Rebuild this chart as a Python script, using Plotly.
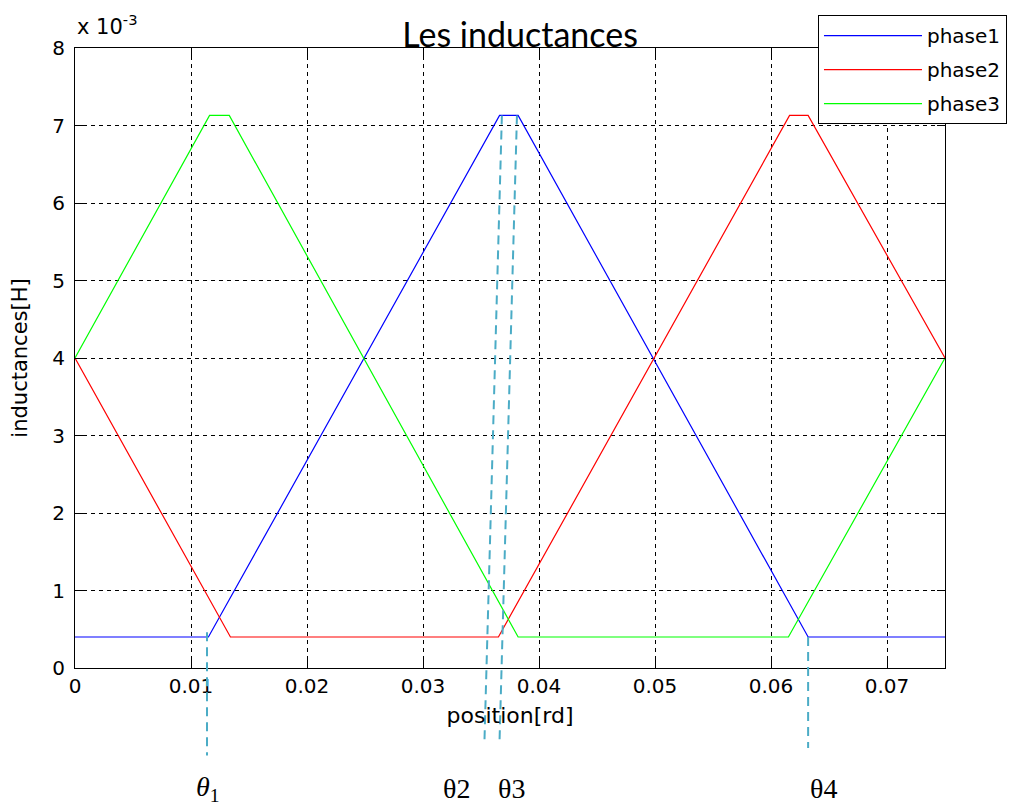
import plotly.graph_objects as go

# Values in units of 1e-3 H (axis shows "x 10^-3")
x_phase1 = [0, 0.0115, 0.0366, 0.0382, 0.0632, 0.075]
y_phase1 = [0.4, 0.4, 7.13, 7.13, 0.4, 0.4]
x_phase2 = [0, 0.0134, 0.0365, 0.0616, 0.0632, 0.075]
y_phase2 = [4.0, 0.4, 0.4, 7.13, 7.13, 4.0]
x_phase3 = [0, 0.0116, 0.0133, 0.0382, 0.0615, 0.075]
y_phase3 = [4.0, 7.13, 7.13, 0.4, 0.4, 4.0]

series_names = ["phase1", "phase2", "phase3"]
series_colors = ["#0000FF", "#FF0000", "#00FF00"]

x_ticks = [0, 0.01, 0.02, 0.03, 0.04, 0.05, 0.06, 0.07]
x_ticklabels = ["0", "0.01", "0.02", "0.03", "0.04", "0.05", "0.06", "0.07"]
y_ticks = [0, 1, 2, 3, 4, 5, 6, 7, 8]

# theta markers: (x at top, y top value, x at bottom)
theta_top_x = [0.01138, 0.0368, 0.0381, 0.0632]
theta_top_y = [0.46, 7.13, 7.13, 0.4]
theta_bot_x = [0.01138, 0.0353, 0.0366, 0.0632]
theta_bot_paper = [-0.141, -0.116, -0.116, -0.129]
theta_labels = ["<i>θ</i><sub>1</sub>", "θ2", "θ3", "θ4"]
theta_label_x = [0.0115, 0.0329, 0.0376, 0.0645]

fig = go.Figure()
for i, (xs, ys) in enumerate([(x_phase1, y_phase1), (x_phase2, y_phase2), (x_phase3, y_phase3)]):
    fig.add_trace(go.Scatter(x=xs, y=ys, mode="lines", name=series_names[i],
                             legendgroup=series_names[i],
                             line=dict(color=series_colors[i], width=1.2)))

Y0, Y1 = 0, 8
for tx, ty, bx, bp in zip(theta_top_x, theta_top_y, theta_bot_x, theta_bot_paper):
    fig.add_shape(type="line", xref="x", yref="paper",
                  x0=tx, y0=(ty - Y0) / (Y1 - Y0), x1=bx, y1=bp,
                  line=dict(color="#4BACC6", width=2, dash="9px,6px"), layer="above")

for lx, lt in zip(theta_label_x, theta_labels):
    fig.add_annotation(x=lx, y=-0.195, xref="x", yref="paper", text=lt, showarrow=False,
                       font=dict(family="Liberation Serif", size=28, color="black"),
                       xanchor="center", yanchor="middle")

fig.add_annotation(x=0, y=1.0, xref="paper", yref="paper", text="x 10<sup>-3</sup>",
                   showarrow=False, xanchor="left", yanchor="bottom", yshift=7,
                   font=dict(family="DejaVu Sans", size=21, color="black"))

TICKFONT = dict(family="DejaVu Sans", size=20, color="black")
axis_common = dict(showline=True, linecolor="black", linewidth=1, mirror="ticks",
                   ticks="inside", ticklen=8, tickcolor="black",
                   showgrid=True, gridcolor="black", gridwidth=1, griddash="4px,4px",
                   zeroline=False, automargin=False, tickfont=TICKFONT)

fig.update_layout(
    width=1008, height=801,
    margin=dict(l=67, r=71, t=40, b=141, autoexpand=False),
    paper_bgcolor="white", plot_bgcolor="white",
    title=dict(text="Les inductances", x=0.508, xanchor="center", y=0.966, yanchor="middle",
               font=dict(family="Lato", size=34, color="black")),
    xaxis=dict(range=[0, 0.075], tickvals=x_ticks, ticktext=x_ticklabels,
               title=dict(text="position[rd]", standoff=10,
                          font=dict(family="DejaVu Sans", size=22, color="black")),
               **axis_common),
    yaxis=dict(range=[Y0, Y1], tickvals=y_ticks, ticklabelstandoff=5,
               title=dict(text="inductances[H]", standoff=20,
                          font=dict(family="DejaVu Sans", size=21, color="black")),
               **axis_common),
    legend=dict(x=0.854, y=1.053, xanchor="left", yanchor="top",
                bgcolor="white", bordercolor="black", borderwidth=1,
                font=dict(family="DejaVu Sans", size=20, color="black"),
                itemwidth=98, tracegroupgap=5),
    showlegend=True,
)

fig.write_html("out.html")
